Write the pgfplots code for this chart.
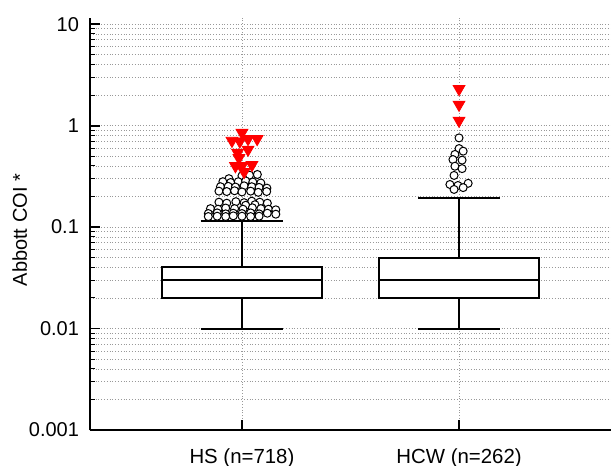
\documentclass[border=0pt]{standalone}
\usepackage{fontspec}
\setmainfont{Liberation Sans}
\usepackage{pgfplots}
\pgfplotsset{compat=1.18}

% outliers (x = category position + jitter)
\pgfplotstableread{
x y
1.000 0.320
1.035 0.325
1.071 0.330
0.940 0.300
0.912 0.280
0.948 0.275
0.983 0.280
1.017 0.285
1.050 0.278
1.087 0.272
0.901 0.250
0.937 0.252
0.970 0.248
1.010 0.255
1.045 0.250
1.079 0.246
1.115 0.242
0.894 0.226
0.930 0.224
0.966 0.228
1.000 0.222
1.040 0.226
1.075 0.220
1.114 0.224
0.894 0.176
0.930 0.172
0.972 0.178
1.010 0.174
1.045 0.180
1.082 0.176
1.117 0.172
1.017 0.164
1.060 0.166
0.855 0.152
0.890 0.150
0.925 0.154
0.966 0.152
1.005 0.150
1.048 0.155
1.087 0.152
1.122 0.150
1.156 0.148
0.845 0.136
0.886 0.138
0.925 0.135
0.960 0.137
1.000 0.136
1.040 0.138
1.079 0.135
1.117 0.137
1.156 0.134
0.845 0.127
0.886 0.128
0.925 0.127
0.960 0.129
1.000 0.128
1.040 0.127
1.079 0.128
}\hscirc
\pgfplotstableread{
x y
1.000 0.85
0.954 0.71
0.990 0.70
1.028 0.74
1.070 0.74
0.980 0.54
1.028 0.58
0.986 0.48
0.970 0.40
1.000 0.40
1.046 0.41
1.010 0.35
}\hstri
\pgfplotstableread{
x y
2.000 0.757
2.000 0.594
2.019 0.560
1.981 0.520
2.014 0.457
1.972 0.463
1.981 0.398
2.014 0.377
1.977 0.323
1.958 0.263
1.995 0.257
2.042 0.270
1.977 0.235
2.019 0.245
}\hcwcirc
\pgfplotstableread{
x y
2.000 2.30
2.000 1.61
2.000 1.12
}\hcwtri

\begin{document}
\begin{tikzpicture}
\begin{axis}[
    at={(0,0)}, anchor=south west,
    scale only axis,
    width=260.5pt, height=206pt,
    ymode=log,
    xmin=0.3, xmax=2.7,
    ymin=0.001, ymax=11.5,
    axis x line*=bottom, axis y line*=left,
    axis line style={line width=1pt},
    xtick={1,2},
    xticklabels={HS (n=718), HCW (n=262)},
    ytick={0.001,0.01,0.1,1,10},
    yticklabels={0.001,0.01,0.1,1,10},
    tick align=inside,
    major tick length=5pt, minor tick length=2.5pt,
    tick style={black, line width=0.9pt},
    minor tick style={black, line width=0.5pt},
    xmajorgrids, ymajorgrids, yminorgrids,
    grid style={densely dotted, black!40, line width=0.4pt},
    minor grid style={densely dotted, black!40, line width=0.4pt},
    /pgf/number format/assume math mode=true,
    xticklabel style={font=\fontsize{10.2}{12}\selectfont, anchor=base, inner sep=0pt, yshift=-16.5pt},
    yticklabel style={font=\fontsize{10}{12}\selectfont, xshift=-2pt},
    ylabel={Abbott COI *},
    ylabel style={font=\fontsize{10}{12}\selectfont, at={(axis description cs:-0.107,0.485)}, anchor=south},
]
% HS box
\addplot[black, line width=1pt, mark=none] coordinates {(1,0.01)(1,0.02)};
\addplot[black, line width=1pt, mark=none] coordinates {(1,0.04)(1,0.115)};
\addplot[black, line width=1pt, mark=none] coordinates {(0.81,0.01)(1.19,0.01)};
\addplot[black, line width=1pt, mark=none] coordinates {(0.81,0.115)(1.19,0.115)};
\addplot[black, line width=1pt, fill=white, mark=none] coordinates {(0.63,0.02)(1.37,0.02)(1.37,0.04)(0.63,0.04)} -- cycle;
\addplot[black, line width=1pt, mark=none] coordinates {(0.63,0.03)(1.37,0.03)};
% HCW box
\addplot[black, line width=1pt, mark=none] coordinates {(2,0.01)(2,0.02)};
\addplot[black, line width=1pt, mark=none] coordinates {(2,0.05)(2,0.195)};
\addplot[black, line width=1pt, mark=none] coordinates {(1.81,0.01)(2.19,0.01)};
\addplot[black, line width=1pt, mark=none] coordinates {(1.81,0.195)(2.19,0.195)};
\addplot[black, line width=1pt, fill=white, mark=none] coordinates {(1.63,0.02)(2.37,0.02)(2.37,0.05)(1.63,0.05)} -- cycle;
\addplot[black, line width=1pt, mark=none] coordinates {(1.63,0.03)(2.37,0.03)};
% outliers
\addplot[only marks, mark=*, mark size=2pt, mark options={draw=black, fill=white, line width=0.5pt}] table {\hscirc};
\addplot[only marks, mark=*, mark size=2pt, mark options={draw=black, fill=white, line width=0.5pt}] table {\hcwcirc};
\addplot[only marks, mark=triangle*, mark size=3.4pt, mark options={draw=red, fill=red, rotate=180}] table {\hstri};
\addplot[only marks, mark=triangle*, mark size=3.4pt, mark options={draw=red, fill=red, rotate=180}] table {\hcwtri};
\end{axis}
\pgfresetboundingbox
\path (-45pt,-18pt) rectangle (260.5pt,215pt);
\end{tikzpicture}
\end{document}
